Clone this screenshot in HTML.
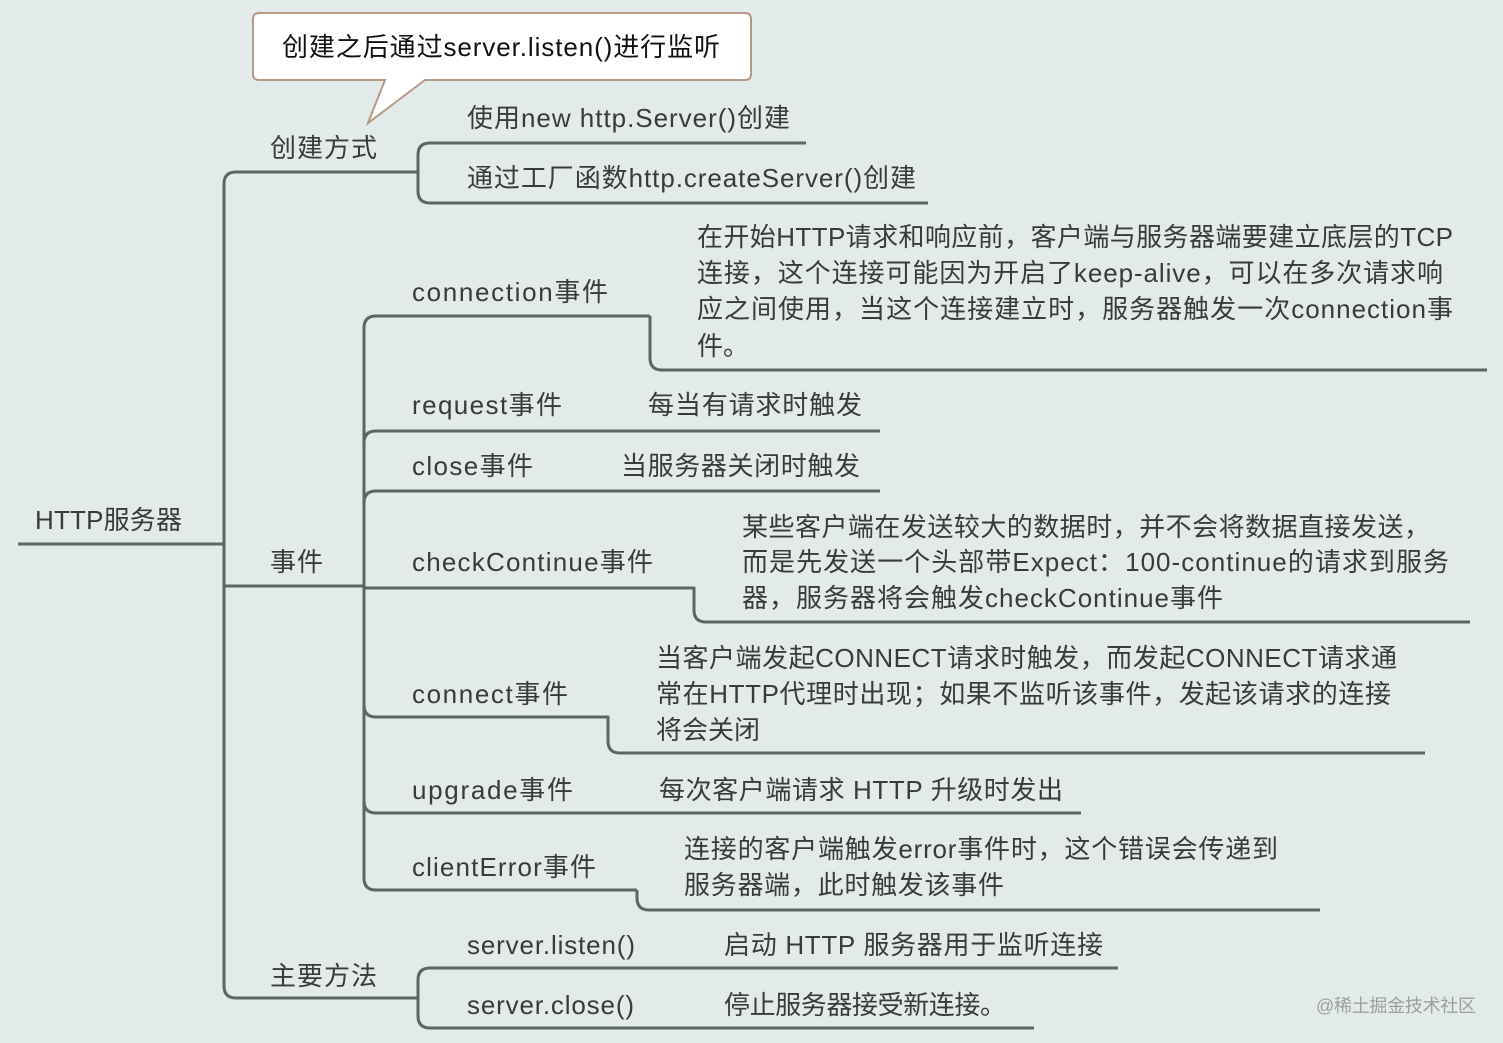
<!DOCTYPE html>
<html><head><meta charset="utf-8"><style>
html,body{margin:0;padding:0;background:#e2eaea;}
svg{display:block}
text{font-family:"Liberation Sans","Noto Sans CJK SC",sans-serif;font-size:26px;fill:#3a3a3a;}
</style></head><body>
<svg width="1503" height="1043" viewBox="0 0 1503 1043" xmlns="http://www.w3.org/2000/svg">
<rect width="1503" height="1043" fill="#e2eaea"/>
<g fill="none" stroke="#5d6464" stroke-width="3" stroke-linejoin="round">
<path d="M18 544 H224"/>
<path d="M418 172 H236 Q224 172 224 184 V986 Q224 998 236 998 H418"/>
<path d="M224 586 H364"/>
<path d="M806 143 H430 Q418 143 418 155 V191 Q418 203 430 203 H928"/>
<path d="M1118 968 H430 Q418 968 418 980 V1016 Q418 1028 430 1028 H1034"/>
<path d="M650 316 H376 Q364 316 364 328 V878 Q364 890 376 890 H637"/>
<path d="M650 316 V358 Q650 370 662 370 H1487"/>
<path d="M364 443 Q364 431 376 431 H880"/>
<path d="M364 503 Q364 491 376 491 H880"/>
<path d="M364 588 H694 V610 Q694 622 706 622 H1470"/>
<path d="M364 705 Q364 717 376 717 H608 V741 Q608 753 620 753 H1425"/>
<path d="M364 801 Q364 813 376 813 H1081"/>
<path d="M637 890 V898 Q637 910 649 910 H1320"/>
</g>
<path d="M259 13 H745 Q751 13 751 19 V74 Q751 80 745 80 H425 L368 123 L385 80 H259 Q253 80 253 74 V19 Q253 13 259 13 Z" fill="#fff" stroke="#b59a8a" stroke-width="2"/>
<text x="282" y="56" textLength="438" style="fill:#111">创建之后通过server.listen()进行监听</text>

<text x="35" y="529" textLength="147">HTTP服务器</text>
<text x="270" y="157" textLength="107">创建方式</text>
<text x="270" y="571" textLength="53">事件</text>
<text x="270" y="985" textLength="107">主要方法</text>

<text x="467" y="127" textLength="323">使用new http.Server()创建</text>
<text x="467" y="187" textLength="449">通过工厂函数http.createServer()创建</text>

<text x="412" y="301" textLength="196">connection事件</text>
<text x="697" y="246" textLength="756">在开始HTTP请求和响应前，客户端与服务器端要建立底层的TCP</text>
<text x="697" y="282" textLength="746">连接，这个连接可能因为开启了keep-alive，可以在多次请求响</text>
<text x="697" y="318" textLength="756">应之间使用，当这个连接建立时，服务器触发一次connection事</text>
<text x="697" y="355">件。</text>

<text x="412" y="414" textLength="150">request事件</text>
<text x="648" y="414" textLength="214">每当有请求时触发</text>
<text x="412" y="475" textLength="121">close事件</text>
<text x="621" y="475" textLength="239">当服务器关闭时触发</text>

<text x="412" y="571" textLength="241">checkContinue事件</text>
<text x="742" y="536" textLength="688">某些客户端在发送较大的数据时，并不会将数据直接发送，</text>
<text x="742" y="571" textLength="707">而是先发送一个头部带Expect：100-continue的请求到服务</text>
<text x="742" y="607" textLength="481">器，服务器将会触发checkContinue事件</text>

<text x="412" y="703" textLength="156">connect事件</text>
<text x="656" y="667" textLength="741">当客户端发起CONNECT请求时触发，而发起CONNECT请求通</text>
<text x="656" y="703" textLength="735">常在HTTP代理时出现；如果不监听该事件，发起该请求的连接</text>
<text x="656" y="739">将会关闭</text>

<text x="412" y="799" textLength="161">upgrade事件</text>
<text x="659" y="799" textLength="404">每次客户端请求 HTTP 升级时发出</text>

<text x="412" y="876" textLength="184">clientError事件</text>
<text x="684" y="858" textLength="594">连接的客户端触发error事件时，这个错误会传递到</text>
<text x="684" y="894" textLength="320">服务器端，此时触发该事件</text>

<text x="467" y="954" textLength="168">server.listen()</text>
<text x="724" y="954" textLength="379">启动 HTTP 服务器用于监听连接</text>
<text x="467" y="1014" textLength="167">server.close()</text>
<text x="724" y="1014" textLength="282">停止服务器接受新连接。</text>

<text x="1316" y="1012" style="font-size:18px;fill:#9aa0a0" textLength="160">@稀土掘金技术社区</text>
</svg>
</body></html>
